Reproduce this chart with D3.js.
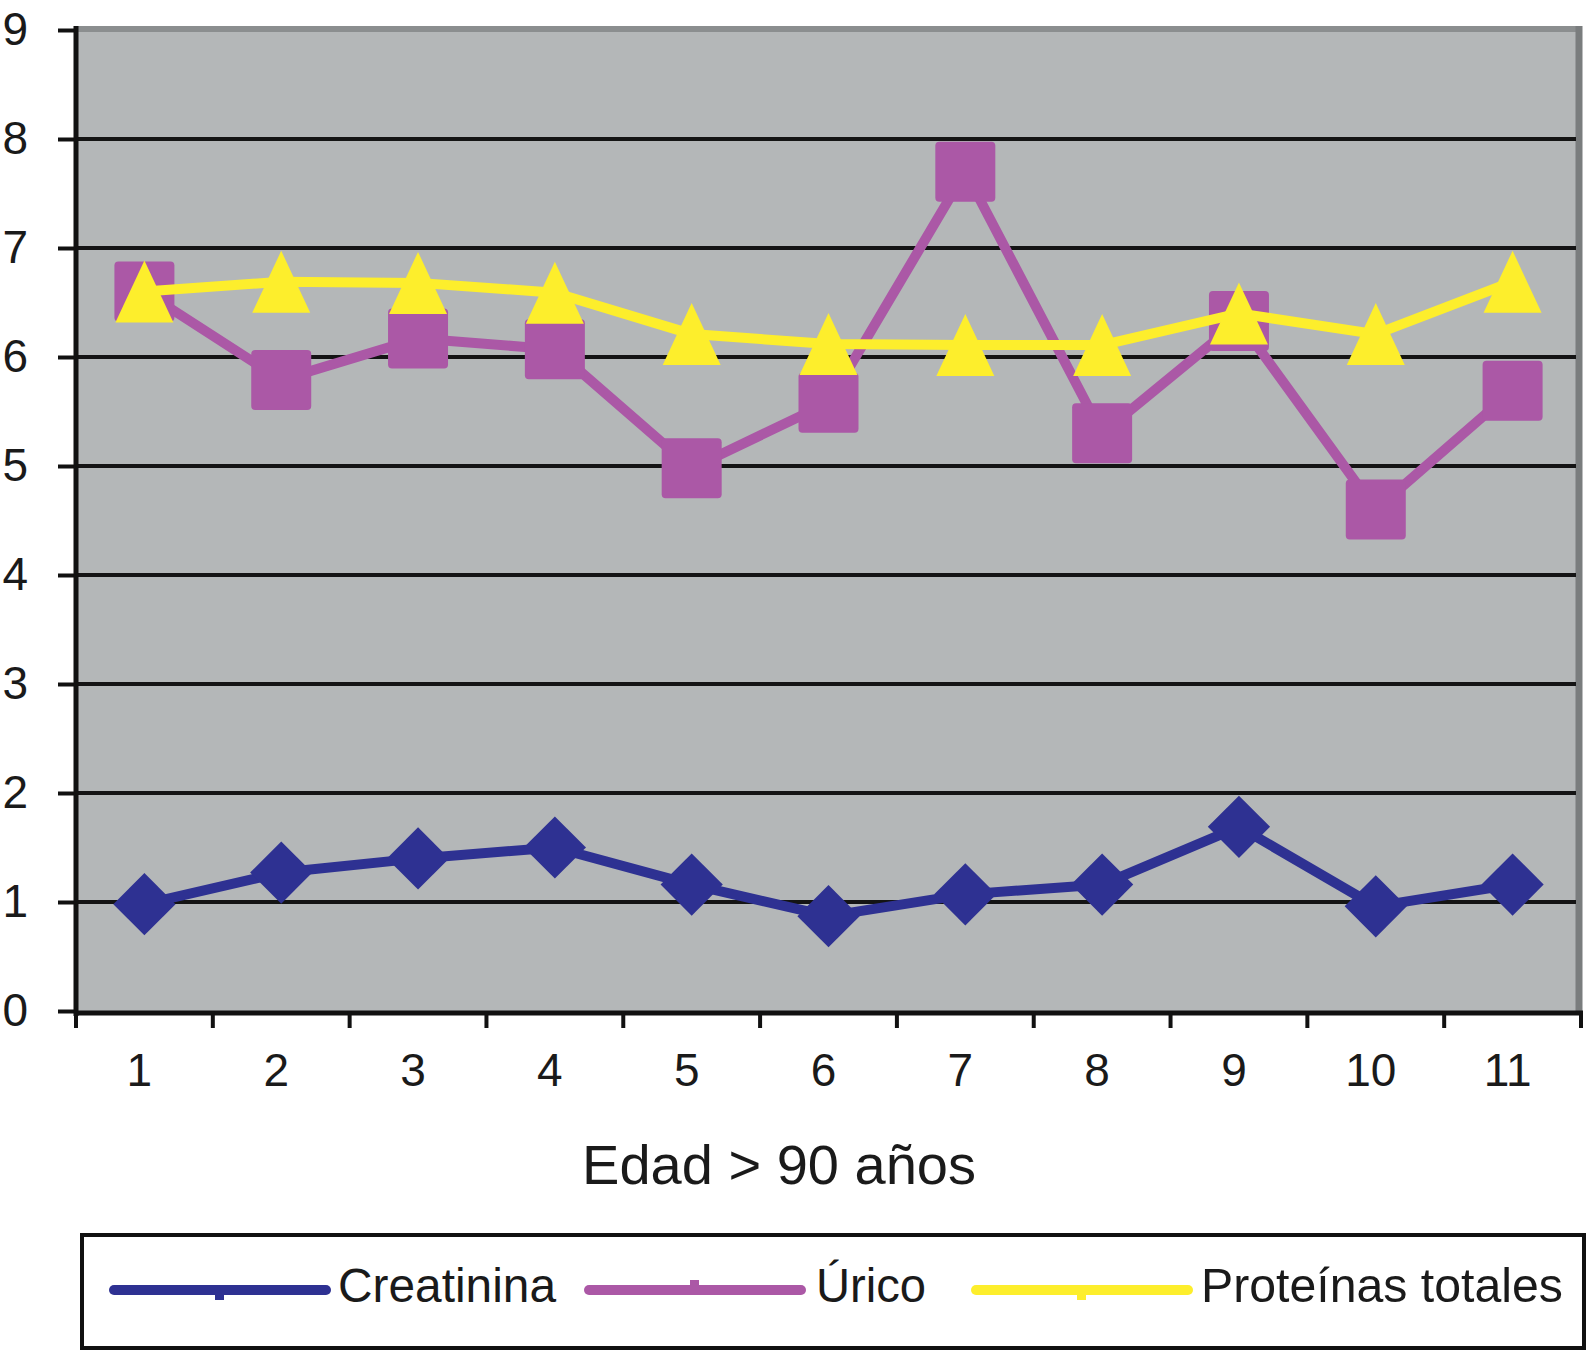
<!DOCTYPE html>
<html>
<head>
<meta charset="utf-8">
<script src="https://cdn.jsdelivr.net/npm/d3@7"></script>
<style>
  html, body { margin: 0; padding: 0; background: #ffffff; }
  svg { display: block; }
  text { font-family: "Liberation Sans", Arial, Helvetica, sans-serif; fill: #1a1a1a; }
</style>
</head>
<body>
<svg id="chart" width="1588" height="1352"></svg>
<script>
// ---- data ----
const categories = ["1", "2", "3", "4", "5", "6", "7", "8", "9", "10", "11"];
const creatinina = [0.98, 1.27, 1.40, 1.50, 1.16, 0.87, 1.07, 1.16, 1.69, 0.96, 1.16];
const urico      = [6.60, 5.79, 6.17, 6.07, 4.98, 5.58, 7.70, 5.30, 6.33, 4.60, 5.69];
const proteinas  = [6.60, 6.69, 6.68, 6.59, 6.21, 6.12, 6.11, 6.11, 6.40, 6.21, 6.69];
const yTicks = [0, 1, 2, 3, 4, 5, 6, 7, 8, 9];
const seriesNames = ["Creatinina", "Úrico", "Proteínas totales"];
const xTitle = "Edad > 90 años";

(function () {
// ---- layout ----
const svg = d3.select("#chart");
const pL = 76, pR = 1581, pT = 30, pB = 1011;
const x = d3.scaleBand().domain(categories).range([pL, pR]).padding(0);
const y = d3.scaleLinear().domain([0, 9]).range([pB, pT]);
const cx = d => x(d) + x.bandwidth() / 2;

const colors = { c: "#2e3192", u: "#ab58a6", p: "#fdee2c" };

// plot background
svg.append("rect")
  .attr("x", pL).attr("y", y(9) - 4)
  .attr("width", 1579 - pL).attr("height", y(0) - y(9) + 4)
  .attr("fill", "#b4b7b8");

// top & right frame (gray)
svg.append("line").attr("x1", pL).attr("x2", 1579).attr("y1", y(9) - 1).attr("y2", y(9) - 1)
  .attr("stroke", "#8b8e8f").attr("stroke-width", 6);
svg.append("line").attr("x1", 1579).attr("x2", 1579).attr("y1", y(9) - 4).attr("y2", y(0))
  .attr("stroke", "#7a7d7e").attr("stroke-width", 7);

// gridlines
svg.append("g").selectAll("line").data(yTicks.filter(t => t > 0 && t < 9)).join("line")
  .attr("x1", pL).attr("x2", 1576)
  .attr("y1", d => y(d)).attr("y2", d => y(d))
  .attr("stroke", "#141414").attr("stroke-width", 4);

// y axis
const yAxis = svg.append("g").attr("transform", `translate(${pL},0)`)
  .call(d3.axisLeft(y).tickValues(yTicks).tickSize(18).tickPadding(30).tickFormat(d3.format("d")));
yAxis.select(".domain").remove();
yAxis.selectAll(".tick line").attr("stroke", "#111").attr("stroke-width", 4);
yAxis.selectAll(".tick text").attr("font-size", 46).attr("fill", "#1a1a1a")
  .attr("font-family", "Liberation Sans, Arial, sans-serif");
svg.append("line").attr("x1", pL).attr("x2", pL).attr("y1", y(9) - 4).attr("y2", y(0) + 5)
  .attr("stroke", "#111").attr("stroke-width", 5);

// x axis
const xAxis = svg.append("g").attr("transform", `translate(0,${pB + 2})`)
  .call(d3.axisBottom(x).tickSize(0).tickPadding(40));
xAxis.select(".domain").remove();
xAxis.selectAll(".tick text").attr("font-size", 46).attr("fill", "#1a1a1a").attr("dx", -5)
  .attr("font-family", "Liberation Sans, Arial, sans-serif");
svg.append("line").attr("x1", pL - 2).attr("x2", pR + 2).attr("y1", pB + 2).attr("y2", pB + 2)
  .attr("stroke", "#111").attr("stroke-width", 5);
const edges = categories.map(c => x(c)).concat([x(categories[categories.length - 1]) + x.bandwidth()]);
svg.append("g").selectAll("line").data(edges).join("line")
  .attr("x1", d => d).attr("x2", d => d)
  .attr("y1", pB).attr("y2", pB + 17)
  .attr("stroke", "#111").attr("stroke-width", 4);

// x title
svg.append("text").attr("x", 779).attr("y", 1184).attr("text-anchor", "middle")
  .attr("font-size", 56).text(xTitle);

// ---- series ----
const line = d3.line().x((d, i) => cx(categories[i])).y(d => y(d)).curve(d3.curveLinear);

function drawLine(data, color) {
  svg.append("path").datum(data).attr("d", line)
    .attr("fill", "none").attr("stroke", color).attr("stroke-width", 10)
    .attr("stroke-linejoin", "round");
}

// Creatinina
drawLine(creatinina, colors.c);
svg.append("g").selectAll("path").data(creatinina).join("path")
  .attr("d", d3.symbol().type(d3.symbolSquare).size(44 * 44))
  .attr("transform", (d, i) => `translate(${cx(categories[i])},${y(d)}) rotate(45)`)
  .attr("fill", colors.c);

// Úrico
drawLine(urico, colors.u);
svg.append("g").selectAll("rect").data(urico).join("rect")
  .attr("x", (d, i) => cx(categories[i]) - 30).attr("y", d => y(d) - 30)
  .attr("width", 60).attr("height", 60).attr("rx", 4)
  .attr("fill", colors.u);

// Proteínas totales
drawLine(proteinas, colors.p);
svg.append("g").selectAll("path").data(proteinas).join("path")
  .attr("d", "M0,-31L29,31L-29,31Z")
  .attr("transform", (d, i) => `translate(${cx(categories[i])},${y(d)})`)
  .attr("fill", colors.p);

// ---- legend ----
svg.append("rect").attr("x", 82).attr("y", 1235).attr("width", 1502).attr("height", 113)
  .attr("fill", "none").attr("stroke", "#111").attr("stroke-width", 4);

const legendItems = [
  { name: seriesNames[0], color: colors.c, x1: 114, x2: 326, tx: 338, tw: 218, stub: 1 },
  { name: seriesNames[1], color: colors.u, x1: 589, x2: 801, tx: 816, tw: 110, stub: -1 },
  { name: seriesNames[2], color: colors.p, x1: 976, x2: 1188, tx: 1201, tw: 362, stub: 1 }
];
const lg = svg.append("g").selectAll("g").data(legendItems).join("g");
lg.append("line")
  .attr("x1", d => d.x1).attr("x2", d => d.x2).attr("y1", 1290).attr("y2", 1290)
  .attr("stroke", d => d.color).attr("stroke-width", 10).attr("stroke-linecap", "round");
lg.append("rect")
  .attr("x", d => (d.x1 + d.x2) / 2 - 5)
  .attr("y", d => d.stub > 0 ? 1290 : 1280)
  .attr("width", 9).attr("height", 10)
  .attr("fill", d => d.color);
lg.append("text")
  .attr("x", d => d.tx).attr("y", 1302)
  .attr("font-size", 48)
  .attr("textLength", d => d.tw).attr("lengthAdjust", "spacingAndGlyphs")
  .text(d => d.name);
})();
</script>
</body>
</html>
